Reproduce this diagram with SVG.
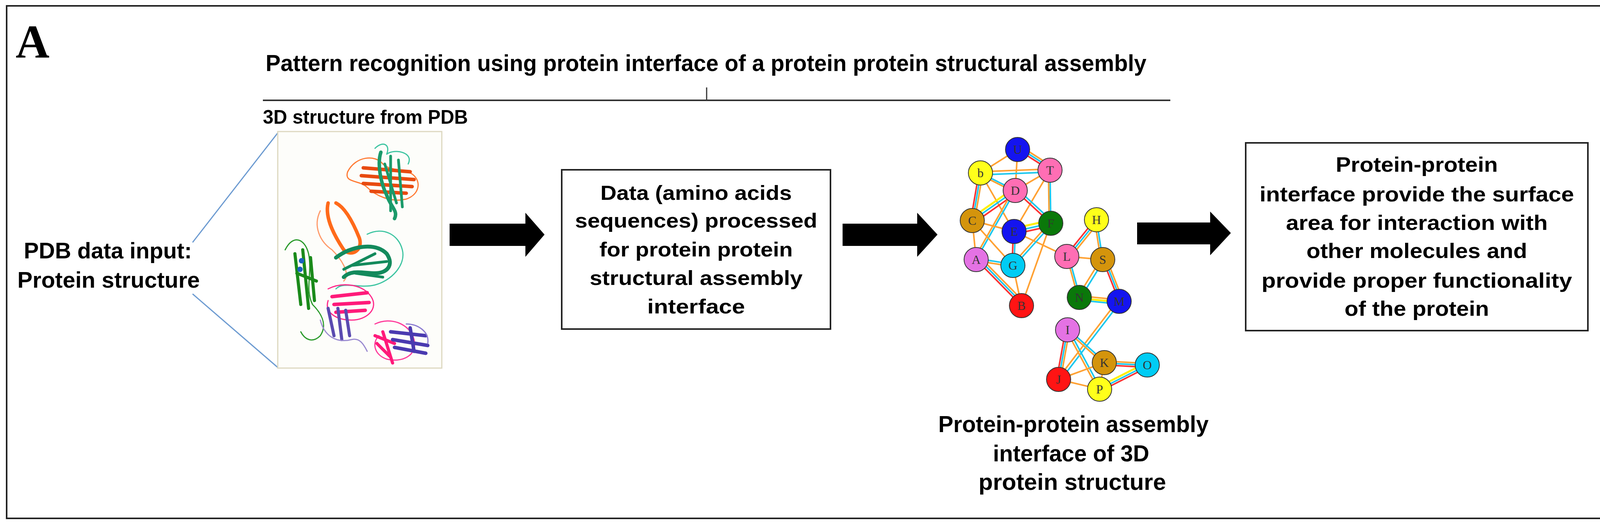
<svg xmlns="http://www.w3.org/2000/svg" width="4164" height="1345" viewBox="0 0 4164 1345">
<style>
.t{font-family:"Liberation Sans",Arial,sans-serif;font-weight:bold;fill:#000}
.box{fill:#fff;stroke:#222;stroke-width:4}
.o{stroke:#ffa133;stroke-width:4;fill:none}
.c{stroke:#1cc8ee;stroke-width:4;fill:none}
.r{stroke:#ff3333;stroke-width:4;fill:none}
.y{stroke:#ffee00;stroke-width:5;fill:none}
.n{stroke:#333;stroke-width:2}
.nl{font-family:"Liberation Serif","Times New Roman",serif;font-size:32px;fill:#333;text-anchor:middle}
.rib{fill:none;stroke-linecap:round;stroke-linejoin:round}
</style>
<rect x="17" y="15" width="4133" height="1313" fill="#fff" stroke="#222" stroke-width="4"/>
<text x="40" y="147" font-family="Liberation Serif,serif" font-weight="bold" font-size="120">A</text>
<g id="title">
<text class="t" x="680" y="182" font-size="60" textLength="2255" lengthAdjust="spacingAndGlyphs">Pattern recognition using protein interface of a protein protein structural assembly</text>
<line x1="673" y1="257" x2="2996" y2="257" stroke="#333" stroke-width="4"/>
<line x1="1809" y1="224" x2="1809" y2="257" stroke="#333" stroke-width="3"/>
</g>
<g id="input">
<text class="t" x="276" y="662" font-size="58" text-anchor="middle" textLength="430" lengthAdjust="spacingAndGlyphs">PDB data input:</text>
<text class="t" x="278" y="737" font-size="58" text-anchor="middle" textLength="467" lengthAdjust="spacingAndGlyphs">Protein structure</text>
</g>
<g id="pdb">
<text class="t" x="673" y="317" font-size="50" textLength="525" lengthAdjust="spacingAndGlyphs">3D structure from PDB</text>
<line x1="493" y1="621" x2="713" y2="338" stroke="#6d9bd1" stroke-width="3"/>
<line x1="493" y1="753" x2="713" y2="943" stroke="#6d9bd1" stroke-width="3"/>
<rect x="711" y="337" width="420" height="606" fill="#fdfdfa" stroke="#ddd8c0" stroke-width="3"/>
<g class="rib">
<path d="M890 440 C910 400 960 395 980 420 C1000 440 1040 430 1060 450 C1080 470 1070 500 1040 510 C1000 520 960 500 940 480 C920 460 880 470 890 440Z" stroke="#ff7a33" stroke-width="3"/>
<path d="M930 430 L1050 440 M925 450 L1060 460 M930 470 L1055 478 M950 490 L1040 495" stroke="#e84a10" stroke-width="9"/>
<path d="M975 390 C965 420 975 470 990 500 C1000 530 1020 540 1010 560" stroke="#1a9a6a" stroke-width="9"/>
<path d="M1000 400 L1000 540 M1020 410 L1030 530 M985 420 L1015 520" stroke="#1a9a6a" stroke-width="7"/>
<path d="M960 380 C980 360 1000 370 990 395 C1010 380 1060 390 1045 420" stroke="#3cc4a0" stroke-width="3"/>
<path d="M840 520 C830 560 860 610 880 640 C900 660 930 640 920 610 C900 560 880 530 860 520" stroke="#ff6a1a" stroke-width="9"/>
<path d="M820 540 C800 580 820 620 850 640 C870 660 900 700 880 720" stroke="#ff9a6a" stroke-width="3"/>
<path d="M860 660 C900 630 960 620 990 650 C1010 680 990 700 960 700 C930 700 900 690 880 710" stroke="#138a5c" stroke-width="10"/>
<path d="M900 680 L990 670 M910 700 L980 710 M880 690 L960 650" stroke="#138a5c" stroke-width="7"/>
<path d="M940 600 C980 580 1020 600 1030 640 C1040 680 1000 720 960 730 C920 740 880 720 860 740" stroke="#3cc4a0" stroke-width="3"/>
<path d="M730 640 C750 600 780 610 790 650 C800 700 780 740 800 780 C820 800 840 830 820 860 C800 880 780 870 770 850" stroke="#2a9a2a" stroke-width="3"/>
<path d="M755 650 L770 780 M775 640 L790 790 M795 660 L805 770 M760 700 L810 720" stroke="#1a8a1a" stroke-width="8"/>
<circle cx="772" cy="668" r="7" fill="#1a60c0"/><circle cx="768" cy="690" r="7" fill="#1a60c0"/>
<path d="M840 740 C880 720 930 730 950 760 C970 790 940 820 900 820 C860 820 830 800 840 770" stroke="#ff2a8a" stroke-width="3"/>
<path d="M850 760 L940 750 M855 780 L945 775 M860 800 L935 795" stroke="#ff1a7a" stroke-width="9"/>
<path d="M840 790 L855 860 M865 790 L875 870 M885 795 L895 860" stroke="#5a4ab0" stroke-width="8"/>
<path d="M820 820 C830 860 860 880 900 870 C920 865 930 880 940 900" stroke="#9a8ad0" stroke-width="3"/>
<path d="M960 830 C1000 810 1050 830 1060 870 C1070 910 1030 930 990 920 C960 910 950 880 970 860" stroke="#ff3a9a" stroke-width="3"/>
<path d="M960 860 L1010 880 M965 880 L1000 915 M980 850 L1005 930" stroke="#ff1a7a" stroke-width="8"/>
<path d="M1000 850 L1090 860 M1005 870 L1095 885 M1010 890 L1090 905 M1050 840 L1060 900" stroke="#4a3ab0" stroke-width="9"/>
<path d="M1040 830 C1070 830 1100 850 1095 880" stroke="#8a7ad0" stroke-width="3"/>
</g>
</g>
<g id="arrows">
<path d="M1151 573 H1345 V545 L1394 601 L1345 658 V630 H1151Z" fill="#000"/>
<path d="M2157 573 H2348 V545 L2400 601 L2348 658 V630 H2157Z" fill="#000"/>
<path d="M2911 570 H3098 V542 L3151 597 L3098 654 V626 H2911Z" fill="#000"/>
</g>
<g id="process">
<rect class="box" x="1438" y="435" width="688" height="408"/>
<g class="t" font-size="52" text-anchor="middle">
<text x="1782" y="512" textLength="490" lengthAdjust="spacingAndGlyphs">Data (amino acids</text>
<text x="1782" y="583" textLength="620" lengthAdjust="spacingAndGlyphs">sequences) processed</text>
<text x="1782" y="657" textLength="495" lengthAdjust="spacingAndGlyphs">for protein protein</text>
<text x="1782" y="730" textLength="545" lengthAdjust="spacingAndGlyphs">structural assembly</text>
<text x="1782" y="803" textLength="250" lengthAdjust="spacingAndGlyphs">interface</text>
</g>
</g>
<g id="result">
<rect class="box" x="3189" y="366" width="876" height="481"/>
<g class="t" font-size="54" text-anchor="middle">
<text x="3627" y="440" textLength="415" lengthAdjust="spacingAndGlyphs">Protein-protein</text>
<text x="3627" y="516" textLength="805" lengthAdjust="spacingAndGlyphs">interface  provide the surface</text>
<text x="3627" y="589" textLength="670" lengthAdjust="spacingAndGlyphs">area  for interaction with</text>
<text x="3627" y="661" textLength="565" lengthAdjust="spacingAndGlyphs">other molecules and</text>
<text x="3627" y="737" textLength="795" lengthAdjust="spacingAndGlyphs">provide   proper functionality</text>
<text x="3627" y="809" textLength="370" lengthAdjust="spacingAndGlyphs">of the protein</text>
</g>
</g>
<g id="network-edges">
<line class="o" x1="2605" y1="383" x2="2510" y2="443"/>
<line class="r" x1="2605" y1="383" x2="2688" y2="436"/><line class="c" x1="2609" y1="379" x2="2692" y2="432"/><line class="o" x1="2613" y1="375" x2="2696" y2="428"/>
<line class="o" x1="2605" y1="383" x2="2599" y2="488"/>
<line class="o" x1="2510" y1="440" x2="2688" y2="433"/><line class="c" x1="2510" y1="448" x2="2688" y2="441"/>
<line class="c" x1="2510" y1="443" x2="2599" y2="488"/><line class="o" x1="2510" y1="448" x2="2599" y2="493"/>
<line class="r" x1="2506" y1="443" x2="2485" y2="565"/><line class="c" x1="2511" y1="443" x2="2490" y2="565"/><line class="o" x1="2516" y1="443" x2="2495" y2="565"/>
<line class="o" x1="2510" y1="443" x2="2596" y2="593"/>
<line class="o" x1="2688" y1="436" x2="2599" y2="488"/>
<line class="o" x1="2688" y1="436" x2="2596" y2="593"/>
<line class="c" x1="2688" y1="436" x2="2690" y2="572"/><line class="o" x1="2684" y1="436" x2="2686" y2="572"/>
<line class="y" x1="2599" y1="480" x2="2489" y2="557"/><line class="c" x1="2599" y1="488" x2="2489" y2="565"/><line class="r" x1="2603" y1="494" x2="2493" y2="571"/>
<line class="r" x1="2599" y1="488" x2="2690" y2="572"/><line class="c" x1="2604" y1="484" x2="2695" y2="568"/>
<line class="c" x1="2599" y1="488" x2="2499" y2="665"/><line class="o" x1="2593" y1="488" x2="2493" y2="665"/>
<line class="o" x1="2489" y1="565" x2="2596" y2="593"/>
<line class="o" x1="2489" y1="565" x2="2593" y2="680"/>
<line class="o" x1="2489" y1="565" x2="2499" y2="665"/>
<line class="y" x1="2596" y1="585" x2="2690" y2="564"/><line class="c" x1="2596" y1="593" x2="2690" y2="572"/><line class="r" x1="2596" y1="600" x2="2690" y2="579"/>
<line class="r" x1="2594" y1="593" x2="2591" y2="680"/><line class="c" x1="2599" y1="593" x2="2596" y2="680"/>
<line class="o" x1="2596" y1="593" x2="2731" y2="657"/>
<line class="o" x1="2686" y1="572" x2="2589" y2="680"/><line class="c" x1="2692" y1="575" x2="2595" y2="683"/>
<line class="o" x1="2690" y1="572" x2="2615" y2="783"/>
<line class="c" x1="2499" y1="662" x2="2593" y2="677"/><line class="o" x1="2499" y1="668" x2="2593" y2="683"/>
<line class="r" x1="2499" y1="665" x2="2615" y2="783"/><line class="c" x1="2504" y1="662" x2="2620" y2="780"/><line class="o" x1="2509" y1="659" x2="2625" y2="777"/>
<line class="o" x1="2593" y1="680" x2="2615" y2="783"/>
<line class="r" x1="2803" y1="563" x2="2727" y2="657"/><line class="c" x1="2808" y1="566" x2="2732" y2="660"/><line class="o" x1="2813" y1="569" x2="2737" y2="663"/>
<line class="c" x1="2807" y1="563" x2="2823" y2="665"/><line class="o" x1="2802" y1="563" x2="2818" y2="665"/>
<line class="o" x1="2731" y1="657" x2="2823" y2="665"/>
<line class="o" x1="2731" y1="657" x2="2760" y2="762"/><line class="c" x1="2736" y1="657" x2="2765" y2="762"/>
<line class="o" x1="2818" y1="665" x2="2758" y2="762"/><line class="c" x1="2825" y1="668" x2="2765" y2="765"/>
<line class="r" x1="2823" y1="665" x2="2865" y2="772"/><line class="c" x1="2828" y1="664" x2="2870" y2="771"/><line class="o" x1="2833" y1="663" x2="2875" y2="770"/>
<line class="o" x1="2763" y1="758" x2="2865" y2="768"/><line class="y" x1="2763" y1="764" x2="2865" y2="774"/><line class="c" x1="2763" y1="769" x2="2865" y2="779"/>
<line class="o" x1="2860" y1="772" x2="2707" y2="972"/><line class="c" x1="2867" y1="775" x2="2714" y2="975"/>
<line class="r" x1="2728" y1="845" x2="2705" y2="972"/><line class="c" x1="2733" y1="845" x2="2710" y2="972"/><line class="o" x1="2738" y1="845" x2="2715" y2="972"/>
<line class="c" x1="2733" y1="842" x2="2827" y2="926"/><line class="o" x1="2733" y1="849" x2="2827" y2="933"/>
<line class="o" x1="2729" y1="845" x2="2811" y2="997"/><line class="c" x1="2736" y1="845" x2="2818" y2="997"/>
<line class="o" x1="2710" y1="972" x2="2827" y2="929"/>
<line class="o" x1="2710" y1="972" x2="2815" y2="997"/>
<line class="o" x1="2827" y1="929" x2="2815" y2="997"/>
<line class="o" x1="2827" y1="925" x2="2937" y2="931"/><line class="c" x1="2827" y1="930" x2="2937" y2="936"/><line class="r" x1="2827" y1="935" x2="2937" y2="941"/>
<line class="y" x1="2815" y1="990" x2="2937" y2="928"/><line class="c" x1="2815" y1="997" x2="2937" y2="935"/><line class="r" x1="2815" y1="1003" x2="2937" y2="941"/>
</g>
<g id="network-nodes">
<g id="node-U"><circle class="n" cx="2605" cy="383" r="31" fill="#1414f0"/><text class="nl" x="2605" y="394">U</text></g>
<g id="node-b"><circle class="n" cx="2510" cy="443" r="31" fill="#ffff1a"/><text class="nl" x="2510" y="454">b</text></g>
<g id="node-T"><circle class="n" cx="2688" cy="436" r="31" fill="#ff6eb4"/><text class="nl" x="2688" y="447">T</text></g>
<g id="node-D"><circle class="n" cx="2599" cy="488" r="31" fill="#ff6eb4"/><text class="nl" x="2599" y="499">D</text></g>
<g id="node-C"><circle class="n" cx="2489" cy="565" r="31" fill="#d4940c"/><text class="nl" x="2489" y="576">C</text></g>
<g id="node-F"><circle class="n" cx="2690" cy="572" r="31" fill="#0a780a"/><text class="nl" x="2690" y="583">F</text></g>
<g id="node-H"><circle class="n" cx="2807" cy="563" r="31" fill="#ffff1a"/><text class="nl" x="2807" y="574">H</text></g>
<g id="node-E"><circle class="n" cx="2596" cy="593" r="31" fill="#1414f0"/><text class="nl" x="2596" y="604">E</text></g>
<g id="node-A"><circle class="n" cx="2499" cy="665" r="31" fill="#e472e4"/><text class="nl" x="2499" y="676">A</text></g>
<g id="node-G"><circle class="n" cx="2593" cy="680" r="31" fill="#00ccf4"/><text class="nl" x="2593" y="691">G</text></g>
<g id="node-L"><circle class="n" cx="2731" cy="657" r="31" fill="#ff6eb4"/><text class="nl" x="2731" y="668">L</text></g>
<g id="node-S"><circle class="n" cx="2823" cy="665" r="31" fill="#d4940c"/><text class="nl" x="2823" y="676">S</text></g>
<g id="node-N"><circle class="n" cx="2763" cy="762" r="31" fill="#0a780a"/><text class="nl" x="2763" y="773">N</text></g>
<g id="node-M"><circle class="n" cx="2865" cy="772" r="31" fill="#1414f0"/><text class="nl" x="2865" y="783">M</text></g>
<g id="node-B"><circle class="n" cx="2615" cy="783" r="31" fill="#ff1414"/><text class="nl" x="2615" y="794">B</text></g>
<g id="node-I"><circle class="n" cx="2733" cy="845" r="31" fill="#e472e4"/><text class="nl" x="2733" y="856">I</text></g>
<g id="node-K"><circle class="n" cx="2827" cy="929" r="31" fill="#d4940c"/><text class="nl" x="2827" y="940">K</text></g>
<g id="node-O"><circle class="n" cx="2937" cy="935" r="31" fill="#00ccf4"/><text class="nl" x="2937" y="946">O</text></g>
<g id="node-J"><circle class="n" cx="2710" cy="972" r="31" fill="#ff1414"/><text class="nl" x="2710" y="983">J</text></g>
<g id="node-P"><circle class="n" cx="2815" cy="997" r="31" fill="#ffff1a"/><text class="nl" x="2815" y="1008">P</text></g>
</g>
<g id="caption" class="t" font-size="60" text-anchor="middle">
<text x="2748" y="1107" textLength="692" lengthAdjust="spacingAndGlyphs">Protein-protein assembly</text>
<text x="2742" y="1182" textLength="400" lengthAdjust="spacingAndGlyphs">interface of 3D</text>
<text x="2745" y="1255" textLength="480" lengthAdjust="spacingAndGlyphs">protein  structure</text>
</g>
</svg>
